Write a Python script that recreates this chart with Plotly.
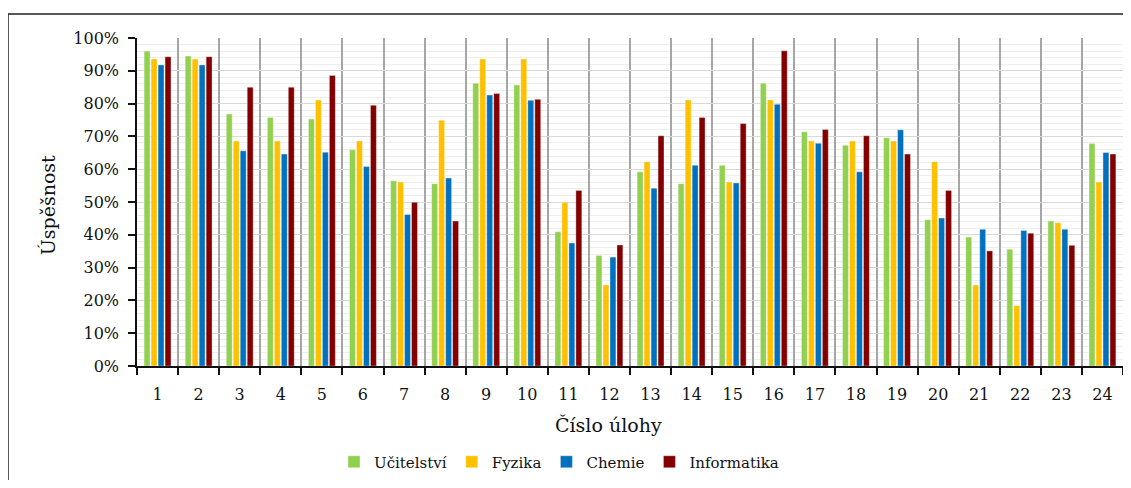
import plotly.graph_objects as go

# task numbers on the x axis
tasks = [str(i) for i in range(1, 25)]

# success rates per study programme (fraction of 1)
ucitelstvi = [0.960, 0.945, 0.768, 0.758, 0.753, 0.659, 0.565, 0.556, 0.862, 0.857, 0.409, 0.337,
              0.592, 0.556, 0.612, 0.862, 0.714, 0.673, 0.696, 0.446, 0.393, 0.356, 0.442, 0.678]
fyzika = [0.936, 0.936, 0.686, 0.686, 0.811, 0.686, 0.561, 0.749, 0.936, 0.936, 0.499, 0.247,
          0.623, 0.811, 0.561, 0.811, 0.686, 0.686, 0.686, 0.623, 0.247, 0.184, 0.437, 0.561]
chemie = [0.918, 0.918, 0.656, 0.646, 0.652, 0.608, 0.462, 0.573, 0.826, 0.810, 0.375, 0.332,
          0.542, 0.612, 0.558, 0.798, 0.679, 0.592, 0.720, 0.451, 0.417, 0.413, 0.417, 0.651]
informatika = [0.943, 0.943, 0.850, 0.850, 0.886, 0.795, 0.499, 0.442, 0.831, 0.813, 0.535, 0.369,
               0.702, 0.758, 0.739, 0.961, 0.721, 0.702, 0.646, 0.535, 0.351, 0.405, 0.368, 0.646]

series = [
    ("Učitelství", ucitelstvi, "#92D050"),
    ("Fyzika", fyzika, "#FFC000"),
    ("Chemie", chemie, "#0070C0"),
    ("Informatika", informatika, "#820000"),
]

FONT = "DejaVu Serif"

# the page body adds 8px around the figure, so the figure starts at (8, 8)
PW, PH = 986, 328  # plot area in px

fig = go.Figure()
for name, vals, color in series:
    fig.add_trace(
        go.Bar(
            x=tasks,
            y=vals,
            name=name,
            marker=dict(color=color, line=dict(color="rgba(255,255,255,0.6)", width=0.6)),
        )
    )

fig.update_layout(
    width=1117,
    height=472,
    margin=dict(l=129, r=2, t=30, b=114),
    plot_bgcolor="white",
    paper_bgcolor="white",
    font=dict(family=FONT, size=16, color="#111"),
    barmode="group",
    bargap=0.32,
    bargroupgap=0.15,
    showlegend=True,
    legend=dict(
        orientation="h",
        x=(559 - 137) / PW,
        xanchor="center",
        y=(366 - 462) / PH,
        yanchor="middle",
        font=dict(size=15),
        itemwidth=30,
        traceorder="normal",
    ),
    xaxis=dict(
        type="category",
        tickson="boundaries",
        showgrid=True,
        gridcolor="#A6A6A6",
        gridwidth=1.5,
        showline=True,
        linecolor="#111",
        linewidth=1.5,
        ticks="outside",
        ticklen=7,
        tickcolor="#111",
        tickwidth=1.5,
        ticklabelstandoff=13,
        range=[-0.5, 23.5],
    ),
    yaxis=dict(
        range=[0, 1],
        dtick=0.1,
        tickformat=".0%",
        showgrid=True,
        gridcolor="#D9D9D9",
        gridwidth=1.2,
        minor=dict(dtick=0.02, showgrid=True, gridcolor="#EEEEEE", gridwidth=1),
        showline=True,
        linecolor="#111",
        linewidth=1.5,
        ticks="outside",
        ticklen=7,
        tickcolor="#111",
        tickwidth=1.5,
        ticklabelstandoff=6,
        zeroline=False,
    ),
    annotations=[
        dict(text="Číslo úlohy", xref="paper", yref="paper", x=(608 - 137) / PW, y=(366 - 425) / PH,
             xanchor="center", yanchor="middle", showarrow=False, font=dict(size=19)),
        dict(text="Úspěšnost", xref="paper", yref="paper", x=(48 - 137) / PW, y=0.49,
             xanchor="center", yanchor="middle", textangle=-90, showarrow=False, font=dict(size=19)),
    ],
    shapes=[
        dict(type="rect", xref="paper", yref="paper",
             x0=(8 - 137) / PW, x1=1.1, y0=-0.6, y1=1 + (38 - 14) / PH,
             line=dict(color="#222", width=1.5), layer="below"),
    ],
)

fig.write_html("out.html")
